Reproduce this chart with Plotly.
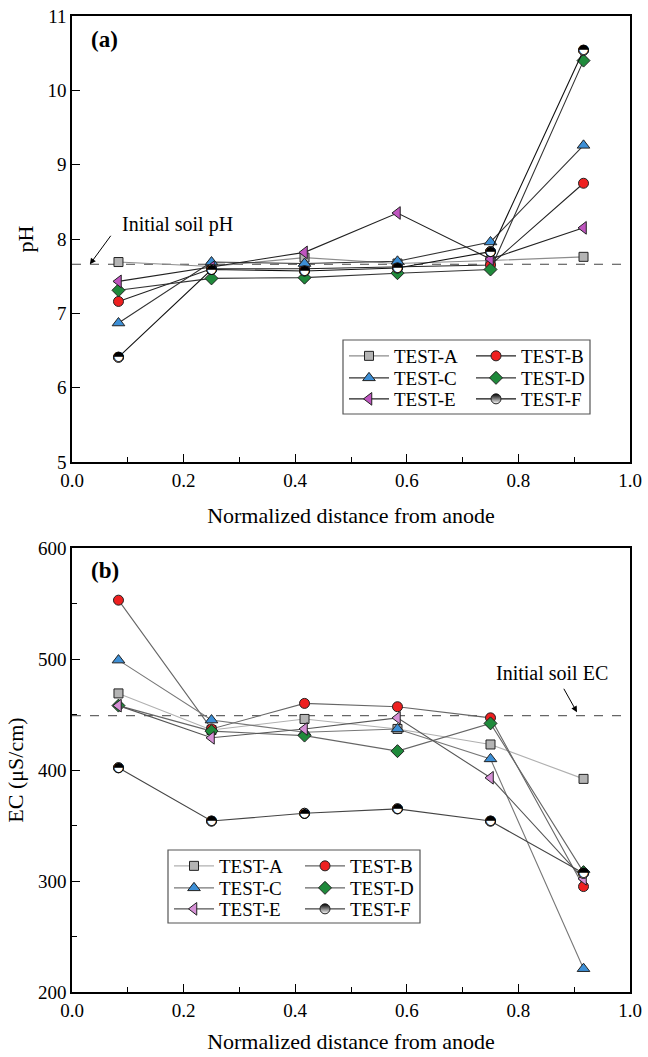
import plotly.graph_objects as go

# ---------------- data ----------------
x_pos = [0.0833, 0.25, 0.4167, 0.5833, 0.75, 0.9167]
names = ["TEST-A", "TEST-B", "TEST-C", "TEST-D", "TEST-E", "TEST-F"]

ph_A = [7.69, 7.63, 7.75, 7.67, 7.71, 7.76]
ph_B = [7.16, 7.60, 7.60, 7.62, 7.65, 8.75]
ph_C = [6.87, 7.69, 7.67, 7.70, 7.96, 9.26]
ph_D = [7.31, 7.47, 7.48, 7.54, 7.59, 10.40]
ph_E = [7.43, 7.62, 7.82, 8.35, 7.73, 8.15]
ph_F = [6.41, 7.59, 7.57, 7.61, 7.83, 10.54]

ec_A = [469, 436, 446, 437, 423, 392]
ec_B = [553, 437, 460, 457, 447, 295]
ec_C = [499, 445, 434, 437, 410, 221]
ec_D = [458, 435, 431, 417, 442, 308]
ec_E = [458, 429, 437, 447, 393, 302]
ec_F = [402, 354, 361, 365, 354, 307]

initial_ph = 7.66
initial_ec = 449

ph_ticks = [5, 6, 7, 8, 9, 10, 11]
ec_ticks = [200, 300, 400, 500, 600]
x_ticks = [0.0, 0.2, 0.4, 0.6, 0.8, 1.0]

# ---------------- styles ----------------
FONT = "Liberation Serif"
symbols = ["square", "circle", "triangle-up", "diamond", "triangle-left", "circle"]
fills_a = ["#b4b4b4", "#ee2020", "#3d8fd6", "#1f8a3b", "#bf55bf", "black"]
fills_b = ["#b4b4b4", "#ee2020", "#3d8fd6", "#1f8a3b", "#d690d6", "black"]
lines_a = ["#8c8c8c", "#222222", "#333333", "#333333", "#222222", "#111111"]
lines_b = ["#b0b0b0", "#666666", "#777777", "#666666", "#555555", "#444444"]
sizes = [9, 10, 11, 10, 11, 10]

W, H = 648, 1057
ML, MR, MT, MB = 72, 18, 16, 65
PW = W - ML - MR
PH_ = H - MT - MB


def px(xp):
    return (xp - ML) / PW


def py(yp):
    return (H - MB - yp) / PH_


fig = go.Figure()

ph_series = [ph_A, ph_B, ph_C, ph_D, ph_E, ph_F]
ec_series = [ec_A, ec_B, ec_C, ec_D, ec_E, ec_F]

for panel, series, fills, lcols, xa, ya, lbase in (
    ("a", ph_series, fills_a, lines_a, "x", "y", 0),
    ("b", ec_series, fills_b, lines_b, "x2", "y2", 6),
):
    for i, name in enumerate(names):
        marker = dict(symbol=symbols[i], size=sizes[i], color=fills[i],
                      line=dict(color="#222222", width=1))
        if i == 5:
            marker["gradient"] = dict(type="vertical", color="white")
        leg_id = lbase + i + 1
        fig.add_trace(go.Scatter(
            x=x_pos, y=series[i], name=name, mode="lines+markers",
            line=dict(color=lcols[i], width=1.1),
            marker=marker, xaxis=xa, yaxis=ya,
            legend="legend" if leg_id == 1 else f"legend{leg_id}",
        ))
    # half-filled circle markers for TEST-F (upper half black)
    fig.add_trace(go.Scatter(
        x=x_pos, y=series[5], mode="markers+text", showlegend=False,
        marker=dict(symbol="circle", size=10, color="white", line=dict(color="#111111", width=1)),
        text=["◓"] * len(x_pos), textposition="middle center",
        textfont=dict(family="DejaVu Sans", size=13, color="black"),
        xaxis=xa, yaxis=ya, hoverinfo="skip",
    ))

# ---------------- legends (one per entry, 3 rows x 2 cols) ----------------
leg_layout = {}
grids = [
    # (col1 line start, col2 line start, row y's)
    (349, 476, [356, 378, 399]),
    (174, 305, [866, 888, 909]),
]
for p, (c1, c2, rows) in enumerate(grids):
    for i in range(6):
        col = i % 2
        row = i // 2
        lx = c1 if col == 0 else c2
        key = "legend" if (p * 6 + i) == 0 else f"legend{p * 6 + i + 1}"
        leg_layout[key] = dict(
            x=px(lx - 5), y=py(rows[row]), xanchor="left", yanchor="middle",
            bgcolor="rgba(0,0,0,0)", borderwidth=0, itemwidth=40,
            font=dict(family=FONT, size=19, color="black"),
            itemclick=False, itemdoubleclick=False,
        )

axis_common = dict(
    showline=True, linecolor="black", linewidth=1.5, mirror=True,
    ticks="inside", ticklen=8, tickwidth=1.2, tickcolor="black",
    showgrid=False, zeroline=False, automargin=False,
    tickfont=dict(family=FONT, size=19, color="black"),
)
title_font = dict(family=FONT, size=22, color="black")
minor_x = dict(ticks="inside", ticklen=5, tickwidth=1.2, tickcolor="black", dtick=0.1)

fig.update_layout(
    template="none",
    width=W, height=H,
    margin=dict(l=ML, r=MR, t=MT, b=MB),
    paper_bgcolor="white", plot_bgcolor="white",
    showlegend=True,
    xaxis=dict(axis_common, domain=[0, 1], anchor="y", range=[0, 1],
               tickvals=x_ticks, tickformat=".1f", minor=minor_x,
               title=dict(text="Normalized distance from anode", font=title_font, standoff=18)),
    yaxis=dict(axis_common, domain=[py(462), 1], anchor="x", range=[5, 11],
               tickvals=ph_ticks,
               title=dict(text="pH", font=title_font, standoff=8)),
    xaxis2=dict(axis_common, domain=[0, 1], anchor="y2", range=[0, 1],
                tickvals=x_ticks, tickformat=".1f", minor=minor_x,
                title=dict(text="Normalized distance from anode", font=title_font, standoff=14)),
    yaxis2=dict(axis_common, domain=[0, py(548)], anchor="x2", range=[200, 600],
                tickvals=ec_ticks,
                minor=dict(ticks="inside", ticklen=5, tickwidth=1.2, tickcolor="black", dtick=50),
                title=dict(text="EC (μS/cm)", font=title_font, standoff=8)),
    **leg_layout,
)

# reference lines
fig.add_shape(type="line", xref="x domain", yref="y", x0=0, x1=1, y0=initial_ph, y1=initial_ph,
              line=dict(color="#444444", width=1.2, dash="dash"), layer="below")
fig.add_shape(type="line", xref="x2 domain", yref="y2", x0=0, x1=1, y0=initial_ec, y1=initial_ec,
              line=dict(color="#666666", width=1.2, dash="dash"), layer="below")

# legend frames
fig.add_shape(type="rect", xref="paper", yref="paper", x0=px(343), x1=px(590), y0=py(414), y1=py(340),
              line=dict(color="#555555", width=1.2), fillcolor="white", layer="below")
fig.add_shape(type="rect", xref="paper", yref="paper", x0=px(168), x1=px(420), y0=py(923), y1=py(850),
              line=dict(color="#555555", width=1.2), fillcolor="white", layer="below")

# panel labels
fig.add_annotation(text="<b>(a)</b>", xref="x", yref="y", x=0.03, y=10.68, xanchor="left",
                   yanchor="middle", showarrow=False, font=dict(family=FONT, size=23, color="black"))
fig.add_annotation(text="<b>(b)</b>", xref="x2", yref="y2", x=0.03, y=580, xanchor="left",
                   yanchor="middle", showarrow=False, font=dict(family=FONT, size=23, color="black"))

# initial value annotations
fig.add_annotation(text="Initial soil pH", xref="x", yref="y", x=0.086, y=8.2, xanchor="left",
                   yanchor="middle", showarrow=False, font=dict(family=FONT, size=20, color="black"))
fig.add_annotation(text="", xref="x", yref="y", x=0.032, y=initial_ph, showarrow=True,
                   ax=22, ay=-30, arrowhead=2, arrowsize=1.2, arrowwidth=1, arrowcolor="black", standoff=0)
fig.add_annotation(text="Initial soil EC", xref="x2", yref="y2", x=0.86, y=487, xanchor="center",
                   yanchor="middle", showarrow=False, font=dict(family=FONT, size=20, color="black"))
fig.add_annotation(text="", xref="x2", yref="y2", x=0.905, y=initial_ec + 3, showarrow=True,
                   ax=-14, ay=-25, arrowhead=2, arrowsize=1.2, arrowwidth=1, arrowcolor="black", standoff=0)

fig.write_html("out.html")
